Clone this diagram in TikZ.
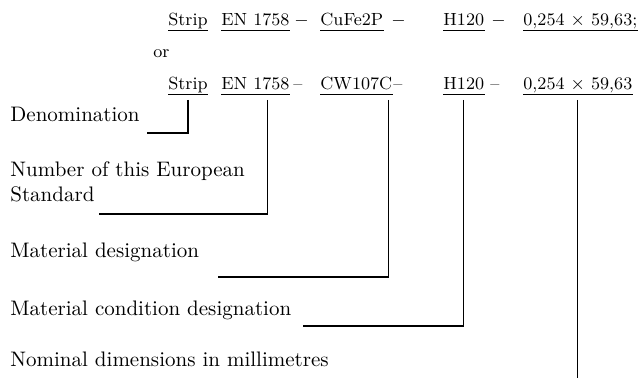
\documentclass[tikz,border=0pt]{standalone}
\usepackage{tikz}
\usetikzlibrary{positioning,calc}

\begin{document}
\begin{tikzpicture}[
  x=0.5pt, y=-0.5pt,
  item/.style={anchor=base west, inner sep=0pt, font=\fontsize{8.8}{11}\selectfont},
  lbl/.style={anchor=base west, inner sep=0pt, align=left, font=\fontsize{10.5}{12.5}\selectfont},
  uline/.style={line width=0.5pt},
  lead/.style={line width=0.6pt}
]
\useasboundingbox (0,0) rectangle (638,378);

% first form
\node[item] (s1)   at (168,26) {Strip};
\node[item] (en1)  at (221,26) {EN 1758};
\node[item] (da1)  at (294,26) {$-$};
\node[item] (m1)   at (320,26) {CuFe2P};
\node[item] (db1)  at (391,26) {$-$};
\node[item] (h1)   at (443,26) {H120};
\node[item] (dc1)  at (491,26) {$-$};
\node[item] (dim1) at (523,26) {0,254 $\times$ 59,63;};

\node[item] (or) at (153,58) {or};

% second form
\node[item] (s2)   at (168,90) {Strip};
\node[item] (en2)  at (221,90) {EN 1758};
\node[item] (da2)  at (293,90) {--};
\node[item] (m2)   at (320,90) {CW107C};
\node[item] (db2)  at (393,90) {--};
\node[item] (h2)   at (443,90) {H120};
\node[item] (dc2)  at (490,90) {--};
\node[item] (dim2) at (523,90) {0,254 $\times$ 59,63};

\foreach \n in {s1,en1,m1,h1,dim1,s2,en2,m2,h2,dim2}
  \draw[uline] ($(\n.base west)+(0,5)$) -- ($(\n.base east)+(0,5)$);

% explanations
\node[lbl] (denom)  at (10,122) {Denomination};
\node[lbl] (stdno)  at (10,202) {Number of this European\\Standard};
\node[lbl] (matdes) at (10,258) {Material designation};
\node[lbl] (cond)   at (10,316) {Material condition designation};
\node[lbl] (nomdim) at (10,367) {Nominal dimensions in millimetres};

\coordinate (tk-s)   at ($(s2.base)+(0,10)$);
\coordinate (tk-en)  at ($(en2.base east)+(-22,10)$);
\coordinate (tk-m)   at ($(m2.base east)+(-4,10)$);
\coordinate (tk-h)   at ($(h2.base)+(0,10)$);
\coordinate (tk-dim) at ($(dim2.base)+(0,10)$);

\coordinate (denom-end)  at (147,133);
\coordinate (stdno-end)  at (99,214);
\coordinate (matdes-end) at (218,277);
\coordinate (cond-end)   at (303,326);
\coordinate (nomdim-end) at (tk-dim |- 0,378);

\draw[lead] (tk-s)   |- (denom-end);
\draw[lead] (tk-en)  |- (stdno-end);
\draw[lead] (tk-m)   |- (matdes-end);
\draw[lead] (tk-h)   |- (cond-end);
\draw[lead] (tk-dim) -- (nomdim-end);
\end{tikzpicture}
\end{document}
